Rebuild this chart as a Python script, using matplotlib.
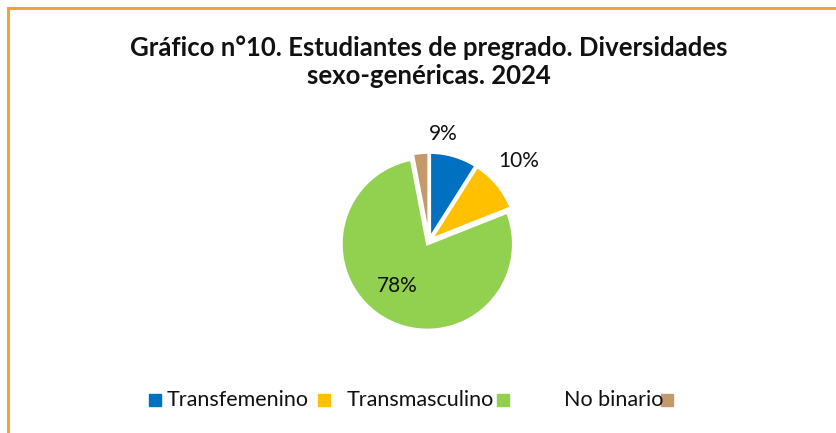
import numpy as np
import matplotlib
matplotlib.use("Agg")
import matplotlib.pyplot as plt
from matplotlib.patches import Rectangle

# data
categories = ["Transfemenino", "Transmasculino", "No binario", ""]
shares = [9, 10, 78, 3]
pct_labels = ["9%", "10%", "78%", ""]
colors = ["#0070C0", "#FFC000", "#92D050", "#C4996C"]

W, H = 837, 433
plt.rcParams.update({"font.family": ["Lato", "DejaVu Sans"]})
fig = plt.figure(figsize=(W / 100, H / 100), dpi=100)

# orange frame, cut off at right and bottom like the reference
fig.patches.append(Rectangle((8.5 / W, -0.05), 1.2, 1 - 7.5 / H + 0.05, transform=fig.transFigure,
                             fill=False, edgecolor="#F2A33A", lw=2.2, zorder=0))

fig.text(429 / W, 1 - 48 / H, "Gráfico n°10. Estudiantes de pregrado. Diversidades",
         ha="center", va="center", fontsize=18.5, fontweight="bold", color="#111111")
fig.text(429 / W, 1 - 76 / H, "sexo-genéricas. 2024",
         ha="center", va="center", fontsize=18.5, fontweight="bold", color="#111111")

# pie axes: center ~ (429, 241) px, radius ~ 86 px
cx, cy, rpx, half = 429, 241, 86, 120
ax = fig.add_axes([(cx - half) / W, (H - cy - half) / H, 2 * half / W, 2 * half / H])

wedges, _ = ax.pie(shares, colors=colors, startangle=90, counterclock=False,
                   explode=[0.03, 0.03, 0.04, 0.03],
                   wedgeprops=dict(edgecolor="white", linewidth=2))
# pie() resets the limits, so set them afterwards
lim = half / rpx
ax.set_xlim(-lim, lim); ax.set_ylim(-lim, lim); ax.set_aspect("equal"); ax.axis("off")

# label placement (distance, angle nudge) per slice
place = [(1.25, 8.7), (1.40, 2.2), (0.64, -6.5), (1.2, 0)]
for w, txt, (d, nud) in zip(wedges, pct_labels, place):
    if not txt:
        continue
    a = np.deg2rad((w.theta1 + w.theta2) / 2 + nud)
    ax.text(d * np.cos(a), d * np.sin(a), txt, ha="center", va="center", fontsize=15, color="#111111")

# legend, laid out like the reference
leg_sq = [149, 318, 497, 661]
leg_tx = [167, 347, 564, None]
ly = 400
for c, lab, sx, tx in zip(colors, categories, leg_sq, leg_tx):
    fig.patches.append(Rectangle((sx / W, 1 - (ly + 6) / H), 12 / W, 12 / H, transform=fig.transFigure,
                                 color=c, zorder=3))
    if tx is not None:
        fig.text(tx / W, 1 - ly / H, lab, ha="left", va="center", fontsize=15.5, color="#111111")

fig.savefig("out.png", dpi=100)
